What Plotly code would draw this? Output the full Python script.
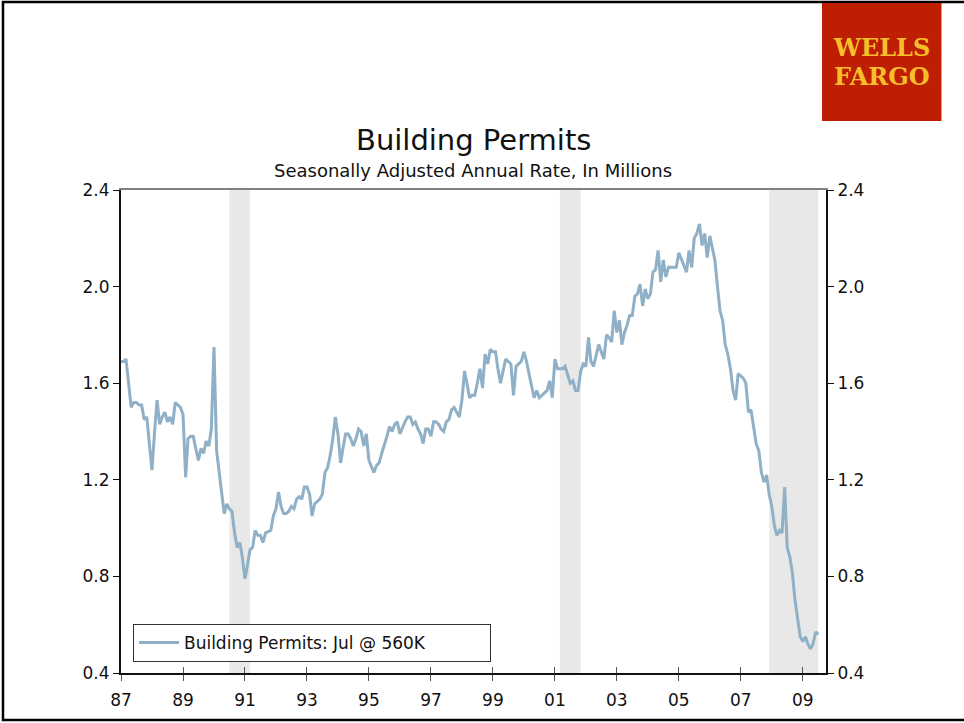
import plotly.graph_objects as go
import pandas as pd

# Monthly building permits, SAAR, millions (Jan 1987 - Jul 2009)
permits_1987 = [1.69, 1.69, 1.70, 1.60, 1.50, 1.52, 1.52, 1.51, 1.51, 1.45, 1.46, 1.35]
permits_1988 = [1.24, 1.40, 1.53, 1.43, 1.46, 1.48, 1.44, 1.46, 1.43, 1.52, 1.51, 1.50]
permits_1989 = [1.47, 1.21, 1.37, 1.38, 1.38, 1.33, 1.28, 1.33, 1.31, 1.36, 1.34, 1.41]
permits_1990 = [1.75, 1.32, 1.24, 1.16, 1.06, 1.10, 1.08, 1.07, 0.98, 0.92, 0.94, 0.88]
permits_1991 = [0.79, 0.85, 0.91, 0.92, 0.99, 0.97, 0.97, 0.94, 0.98, 0.985, 0.99, 1.05]
permits_1992 = [1.08, 1.15, 1.09, 1.06, 1.06, 1.07, 1.09, 1.08, 1.12, 1.13, 1.12, 1.17]
permits_1993 = [1.17, 1.14, 1.05, 1.10, 1.11, 1.12, 1.14, 1.23, 1.25, 1.30, 1.37, 1.46]
permits_1994 = [1.39, 1.27, 1.33, 1.39, 1.39, 1.37, 1.34, 1.37, 1.41, 1.40, 1.34, 1.39]
permits_1995 = [1.28, 1.25, 1.23, 1.26, 1.27, 1.31, 1.35, 1.38, 1.42, 1.40, 1.43, 1.44]
permits_1996 = [1.39, 1.42, 1.44, 1.46, 1.46, 1.43, 1.44, 1.41, 1.39, 1.35, 1.41, 1.41]
permits_1997 = [1.38, 1.44, 1.44, 1.43, 1.41, 1.40, 1.44, 1.45, 1.49, 1.50, 1.48, 1.46]
permits_1998 = [1.53, 1.65, 1.60, 1.54, 1.55, 1.55, 1.60, 1.66, 1.58, 1.72, 1.68, 1.74]
permits_1999 = [1.73, 1.73, 1.66, 1.60, 1.65, 1.70, 1.69, 1.68, 1.55, 1.67, 1.68, 1.69]
permits_2000 = [1.73, 1.69, 1.64, 1.59, 1.54, 1.57, 1.54, 1.55, 1.56, 1.57, 1.61, 1.54]
permits_2001 = [1.70, 1.66, 1.66, 1.66, 1.67, 1.63, 1.60, 1.61, 1.57, 1.57, 1.65, 1.68]
permits_2002 = [1.67, 1.79, 1.69, 1.67, 1.72, 1.76, 1.73, 1.70, 1.80, 1.79, 1.77, 1.90]
permits_2003 = [1.81, 1.86, 1.76, 1.81, 1.84, 1.88, 1.88, 1.96, 1.97, 2.01, 1.92, 1.99]
permits_2004 = [1.95, 1.97, 2.06, 2.07, 2.15, 2.02, 2.11, 2.04, 2.08, 2.08, 2.08, 2.08]
permits_2005 = [2.14, 2.11, 2.09, 2.06, 2.15, 2.08, 2.20, 2.22, 2.26, 2.17, 2.22, 2.12]
permits_2006 = [2.21, 2.15, 2.11, 2.00, 1.90, 1.86, 1.76, 1.72, 1.66, 1.57, 1.53, 1.64]
permits_2007 = [1.63, 1.62, 1.60, 1.48, 1.49, 1.41, 1.35, 1.32, 1.23, 1.19, 1.22, 1.14]
permits_2008 = [1.09, 1.01, 0.97, 0.99, 0.98, 1.17, 0.92, 0.88, 0.81, 0.70, 0.62, 0.55]
permits_2009 = [0.53, 0.55, 0.52, 0.50, 0.52, 0.57, 0.56]

permits = (permits_1987 + permits_1988 + permits_1989 + permits_1990 + permits_1991
           + permits_1992 + permits_1993 + permits_1994 + permits_1995 + permits_1996
           + permits_1997 + permits_1998 + permits_1999 + permits_2000 + permits_2001
           + permits_2002 + permits_2003 + permits_2004 + permits_2005 + permits_2006
           + permits_2007 + permits_2008 + permits_2009)
months = pd.date_range("1987-01-01", periods=len(permits), freq="MS")

recession_starts = ["1990-07-01", "2001-03-01", "2007-12-01"]
recession_ends = ["1991-03-01", "2001-11-01", "2009-07-01"]

y_ticks = [0.4, 0.8, 1.2, 1.6, 2.0, 2.4]
y_tick_labels = ["0.4", "0.8", "1.2", "1.6", "2.0", "2.4"]

series_name = "Building Permits: Jul @ 560K"
title_text = "Building Permits"
subtitle_text = "Seasonally Adjusted Annual Rate, In Millions"

FONT = "DejaVu Sans"
LINE_COLOR = "#8FB0C6"
AXIS_COLOR = "#111111"
X_RANGE = ["1987-01-01", "2009-10-01"]
Y_RANGE = [0.4, 2.4]

fig = go.Figure()
fig.add_trace(go.Scatter(x=months, y=permits, mode="lines",
                         name=series_name + "\u00a0" * 11,
                         line=dict(color=LINE_COLOR, width=3), showlegend=True))
# invisible helper traces to activate secondary axes
fig.add_trace(go.Scatter(x=[months[0]], y=[permits[0]], xaxis="x2", yaxis="y2",
                         mode="markers", marker=dict(opacity=0), showlegend=False,
                         hoverinfo="skip"))
fig.add_trace(go.Scatter(x=[months[0]], y=[permits[0]], xaxis="x3", yaxis="y",
                         mode="markers", marker=dict(opacity=0), showlegend=False,
                         hoverinfo="skip"))

for s, e in zip(recession_starts, recession_ends):
    fig.add_vrect(x0=s, x1=e, fillcolor="#E8E8E8", line_width=0, layer="below")

fig.update_layout(
    width=964, height=723,
    margin=dict(l=121, r=138, t=190, b=50),
    paper_bgcolor="white", plot_bgcolor="white",
    font=dict(family=FONT, color="#111111", size=17),
    xaxis=dict(type="date", range=X_RANGE, tick0="1987-01-01", dtick="M24",
               tickformat="%y", ticks="outside", ticklen=6, tickwidth=1,
               tickcolor="#555555", showline=True, linecolor=AXIS_COLOR,
               linewidth=2, mirror=False, showgrid=False, zeroline=False,
               ticklabelstandoff=5, tickfont=dict(size=17, family=FONT)),
    xaxis2=dict(type="date", range=X_RANGE, tick0="1987-01-01", dtick="M24",
                overlaying="x", side="bottom", ticks="inside", ticklen=6,
                tickcolor="#555555", showticklabels=False, showgrid=False,
                showline=False, zeroline=False),
    xaxis3=dict(type="date", range=X_RANGE, overlaying="x", side="top",
                ticks="", showticklabels=False, showgrid=False, zeroline=False,
                showline=True, linecolor="#808080", linewidth=2),
    yaxis=dict(range=Y_RANGE, tickvals=y_ticks, ticktext=y_tick_labels,
               ticks="outside", ticklen=6, tickcolor=AXIS_COLOR,
               showline=True, linecolor=AXIS_COLOR, linewidth=2, mirror=False,
               showgrid=False, zeroline=False, tickfont=dict(size=17, family=FONT)),
    yaxis2=dict(range=Y_RANGE, tickvals=y_ticks, ticktext=y_tick_labels,
                overlaying="y", side="right", ticks="outside", ticklen=6,
                tickcolor=AXIS_COLOR, showline=True, linecolor=AXIS_COLOR,
                linewidth=2, showgrid=False, zeroline=False,
                tickfont=dict(size=17, family=FONT)),
    legend=dict(x=0.017, y=0.0228, xanchor="left", yanchor="bottom",
                bgcolor="white", bordercolor="#333333", borderwidth=1,
                font=dict(size=17, family=FONT), itemwidth=40),
    showlegend=True,
)

# titles
fig.add_annotation(text=title_text, xref="paper", yref="paper", x=0.4993, y=1.1035,
                   showarrow=False, font=dict(size=29, family=FONT, color="#111111"),
                   xanchor="center", yanchor="middle")
fig.add_annotation(text=subtitle_text, xref="paper", yref="paper", x=0.4993, y=1.0414,
                   showarrow=False, font=dict(size=18, family=FONT, color="#111111"),
                   xanchor="center", yanchor="middle")

# Wells Fargo logo block
fig.add_shape(type="rect", xref="paper", yref="paper", x0=0.9943, x1=1.1638,
              y0=1.1429, y1=1.387, fillcolor="#BE1E02", line_width=0)
fig.add_annotation(text="<b>WELLS</b>", xref="paper", yref="paper",
                   x=1.079, y=1.2960, showarrow=False,
                   font=dict(size=24, family="DejaVu Serif", color="#F7BE2C"),
                   xanchor="center", yanchor="middle")
fig.add_annotation(text="<b>FARGO</b>", xref="paper", yref="paper",
                   x=1.079, y=1.2360, showarrow=False,
                   font=dict(size=24, family="DejaVu Serif", color="#F7BE2C"),
                   xanchor="center", yanchor="middle")

# outer frame
fig.add_shape(type="rect", xref="paper", yref="paper", x0=-0.1674, x1=1.1986,
              y0=-0.0973, y1=1.389, line=dict(color="black", width=2.5),
              fillcolor="rgba(0,0,0,0)", layer="below")

fig.write_html("out.html", config={"displayModeBar": False},
               post_script="document.body.style.margin='0';")
